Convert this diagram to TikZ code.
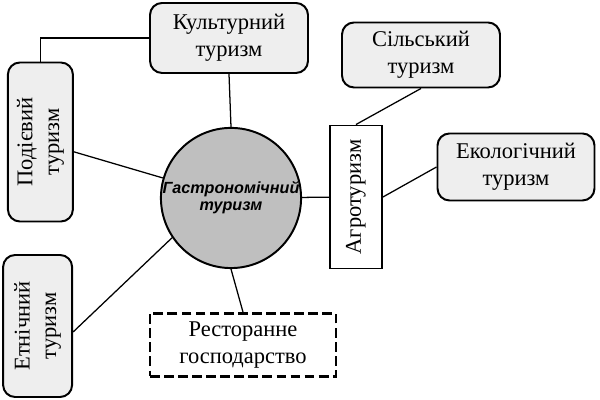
\documentclass[tikz,border=0pt]{standalone}
\usepackage{fontspec}
\setmainfont{Liberation Serif}
\setsansfont{Liberation Sans}

\tikzstyle{topic} = [draw,line width=1.4pt,rounded corners=0.3cm,fill=gray!13,align=center,inner sep=0pt,font=\fontsize{16}{19}\selectfont]
\tikzstyle{plainbox} = [draw,line width=1.4pt,fill=white,align=center,inner sep=0pt,font=\fontsize{16}{19}\selectfont]
\tikzstyle{core} = [circle,draw,line width=1.4pt,fill=gray!50,align=center,inner sep=0pt,minimum size=3.45cm,font=\sffamily\bfseries\itshape\fontsize{11.5}{12}\selectfont]
\tikzstyle{link} = [line width=0.9pt]

\begin{document}
\begin{tikzpicture}
		\useasboundingbox (0,0) rectangle (15,10);
		\node[core] (gastro) at (5.775,5.05) {Гастрономічний\\туризм};
		\node[topic,minimum width=3.95cm,minimum height=1.75cm] (kult) at (5.725,9.05) {Культурний\\туризм};
		\node[topic,rotate=90,minimum width=3.975cm,minimum height=1.625cm] (podiev) at (1.01,6.45) {Подієвий\\туризм};
		\node[topic,rotate=90,minimum width=3.55cm,minimum height=1.725cm] (etnich) at (0.94,1.85) {Етнічний\\туризм};
		\node[plainbox,dash pattern=on 7pt off 3pt,line width=2pt,minimum width=4.65cm,minimum height=1.575cm] (resto) at (6.075,1.375) {Ресторанне\\господарство};
		\node[plainbox,rotate=90,minimum width=3.575cm,minimum height=1.3cm] (agro) at (8.9,5.075) {Агротуризм};
		\node[topic,minimum width=3.95cm,minimum height=1.625cm] (silsk) at (10.525,8.625) {Сільський\\туризм};
		\node[topic,minimum width=3.925cm,minimum height=1.675cm] (eko) at (12.9,5.825) {Екологічний\\туризм};
		\draw[link] (kult.south) -- (gastro.north);
		\draw[link] (kult.west) -| (podiev.east);
		\draw[link] (podiev) -- (gastro);
		\draw[link] ([yshift=-0.15cm]etnich.south) -- (gastro.214);
		\draw[link] (gastro.south) -- (resto.north);
		\draw[link] (gastro) -- (agro);
		\draw[link] (silsk.south) -- (agro.east);
		\draw[link] (eko.west) -- (agro.south);
		\end{tikzpicture}
\end{document}
